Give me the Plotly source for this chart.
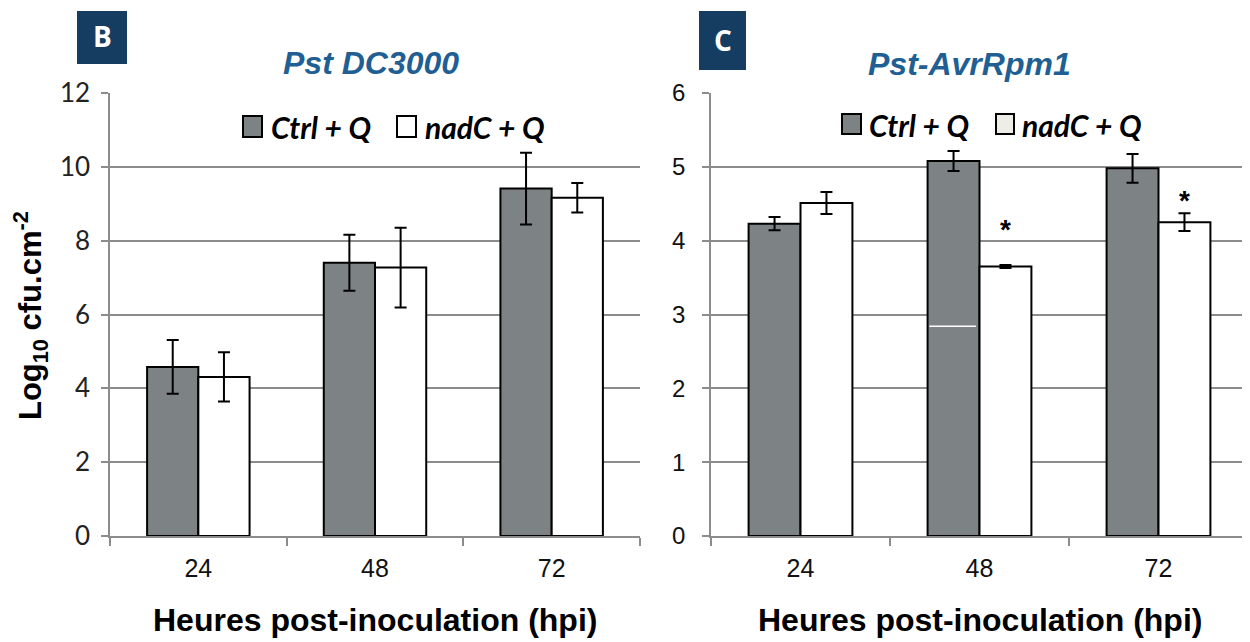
import plotly.graph_objects as go

# Reference canvas is 1250x642; the page body adds an 8px margin,
# so the figure is sized to the remaining area and coordinates offset.
REF_W, REF_H = 1250, 642
OFF = 8
W, H = REF_W - OFF, REF_H - OFF

# ---------------- data ----------------
categories = ["24", "48", "72"]

# Panel B : Pst DC3000
b_ctrl = [4.58, 7.40, 9.41]
b_ctrl_err = [0.73, 0.76, 0.97]
b_nadc = [4.31, 7.27, 9.16]
b_nadc_err = [0.67, 1.08, 0.40]

# Panel C : Pst-AvrRpm1
c_ctrl = [4.23, 5.08, 4.98]
c_ctrl_err = [0.09, 0.135, 0.195]
c_nadc = [4.51, 3.65, 4.25]
c_nadc_err = [0.15, 0.02, 0.12]
c_star_cats = ["48", "72"]
c_star_y = [4.15, 4.54]

series_names = ["Ctrl + Q", "nadC + Q"]
title_b = "Pst DC3000"
title_c = "Pst-AvrRpm1"
x_title = "Heures post-inoculation (hpi)"
y_title = "Log<sub>10</sub> cfu.cm<sup>-2</sup>"

GRAY = "#7d8285"
GRID = "#8c8c8c"
BLUE = "#1f5f93"
NAVY = "#143d61"


def px(x):
    return (x - OFF) / W


def py(y):
    return 1 - (y - OFF) / H


fig = go.Figure()


def add_bars(xa, ya, ctrl, ctrl_err, nadc, nadc_err):
    fig.add_trace(go.Bar(
        x=categories, y=ctrl, name=series_names[0], xaxis=xa, yaxis=ya,
        marker=dict(color=GRAY, line=dict(color="black", width=2)),
        error_y=dict(type="data", array=ctrl_err, color="black", thickness=2, width=6),
        showlegend=False))
    fig.add_trace(go.Bar(
        x=categories, y=nadc, name=series_names[1], xaxis=xa, yaxis=ya,
        marker=dict(color="white", line=dict(color="black", width=2)),
        error_y=dict(type="data", array=nadc_err, color="black", thickness=2, width=6),
        showlegend=False))


add_bars("x", "y", b_ctrl, b_ctrl_err, b_nadc, b_nadc_err)
add_bars("x2", "y2", c_ctrl, c_ctrl_err, c_nadc, c_nadc_err)

ydom = [py(536), py(93)]
xcommon = dict(type="category", categoryorder="array", categoryarray=categories,
               range=[-0.5, len(categories) - 0.5], automargin=False,
               showgrid=False, showline=True, linecolor=GRID, linewidth=1.5,
               ticks="outside", tickson="boundaries", ticklen=8, tickcolor=GRID, tickwidth=1.5,
               ticklabelstandoff=9,
               tickfont=dict(family="Liberation Sans, Arial", size=25, color="#111"),
               fixedrange=True)
ycommon = dict(showgrid=True, gridcolor=GRID, gridwidth=1.5, showline=True, linecolor=GRID,
               linewidth=1.5, ticks="outside", ticklen=7, tickcolor=GRID, tickwidth=1.5,
               zeroline=False, domain=ydom, automargin=False, fixedrange=True)

fig.update_layout(
    width=W, height=H,
    margin=dict(l=0, r=0, t=0, b=0),
    paper_bgcolor="white", plot_bgcolor="white",
    barmode="group", bargap=0.42, bargroupgap=0,
    xaxis=dict(domain=[px(110), px(640)], anchor="y", **xcommon),
    yaxis=dict(range=[0, 12], dtick=2, anchor="x", ticklabelstandoff=6,
               tickfont=dict(family="Lato, Carlito, sans-serif", size=26, color="#222"),
               **ycommon),
    xaxis2=dict(domain=[px(711), px(1248)], anchor="y2", **xcommon),
    yaxis2=dict(range=[0, 6], dtick=1, anchor="x2", ticklabelstandoff=12,
                tickfont=dict(family="Liberation Sans, Arial", size=24, color="#111"),
                **ycommon),
)

annotations = []
shapes = []

# Panel letters
for letter, (x0, y0, x1, y1) in [("B", (77, 11, 127, 64)), ("C", (699, 11, 746, 70))]:
    shapes.append(dict(type="rect", xref="paper", yref="paper", x0=px(x0), x1=px(x1),
                       y0=py(y1), y1=py(y0), fillcolor=NAVY, line=dict(width=0), layer="above"))
    annotations.append(dict(text="<b>%s</b>" % letter, xref="paper", yref="paper",
                            x=px((x0 + x1) / 2), y=py((y0 + y1) / 2 - 1), showarrow=False,
                            xanchor="center", yanchor="middle",
                            font=dict(family="Open Sans, sans-serif", size=28, color="white")))

# Titles
for t, cx, cy in [(title_b, 371, 63), (title_c, 969, 64)]:
    annotations.append(dict(text="<b><i>%s</i></b>" % t, xref="paper", yref="paper",
                            x=px(cx), y=py(cy), showarrow=False, xanchor="center",
                            yanchor="middle",
                            font=dict(family="Liberation Sans, Arial", size=32, color=BLUE)))

# X titles
for cx in [375, 980]:
    annotations.append(dict(text="<b>%s</b>" % x_title, xref="paper", yref="paper",
                            x=px(cx), y=py(620), showarrow=False, xanchor="center",
                            yanchor="middle",
                            font=dict(family="Liberation Sans, Arial", size=32, color="black")))

# Y title
annotations.append(dict(text="<b>%s</b>" % y_title, xref="paper", yref="paper",
                        x=px(30), y=py(316), showarrow=False, textangle=-90,
                        xanchor="center", yanchor="middle",
                        font=dict(family="Liberation Sans, Arial", size=31, color="black")))

# Legends (custom)
legend_specs = [
    # (square x0, x1, y0, y1, fill, text x)
    [(243, 262, 116, 137, GRAY, 269), (397, 416, 116, 137, "white", 423)],
    [(842, 861, 114, 134, GRAY, 867), (996, 1014, 114, 134, "#eeeee6", 1020)],
]
for panel in legend_specs:
    for (x0, x1, y0, y1, fill, tx), name in zip(panel, series_names):
        shapes.append(dict(type="rect", xref="paper", yref="paper", x0=px(x0), x1=px(x1),
                           y0=py(y1), y1=py(y0), fillcolor=fill,
                           line=dict(color="black", width=2)))
        annotations.append(dict(text="<b><i>%s</i></b>" % name, xref="paper", yref="paper",
                                x=px(tx), y=py((y0 + y1) / 2 + 1), showarrow=False,
                                xanchor="left", yanchor="middle",
                                font=dict(family="Lato, Carlito, sans-serif", size=30,
                                          color="black")))

# significance stars above nadC bars in panel C (category index used for position)
for cat, yv in zip(c_star_cats, c_star_y):
    annotations.append(dict(text="<b>*</b>", xref="x2", yref="y2",
                            x=categories.index(cat), y=yv,
                            xshift=26, showarrow=False, xanchor="center", yanchor="middle",
                            font=dict(family="Liberation Sans, Arial", size=28, color="black")))

# thin white streak visible inside the 48 h Ctrl bar of panel C
shapes.append(dict(type="line", xref="x2", yref="y2", x0=0.72, x1=0.98, y0=2.84, y1=2.84,
                   line=dict(color="white", width=1.5)))

fig.update_layout(annotations=annotations, shapes=shapes)

fig.write_html("out.html")
